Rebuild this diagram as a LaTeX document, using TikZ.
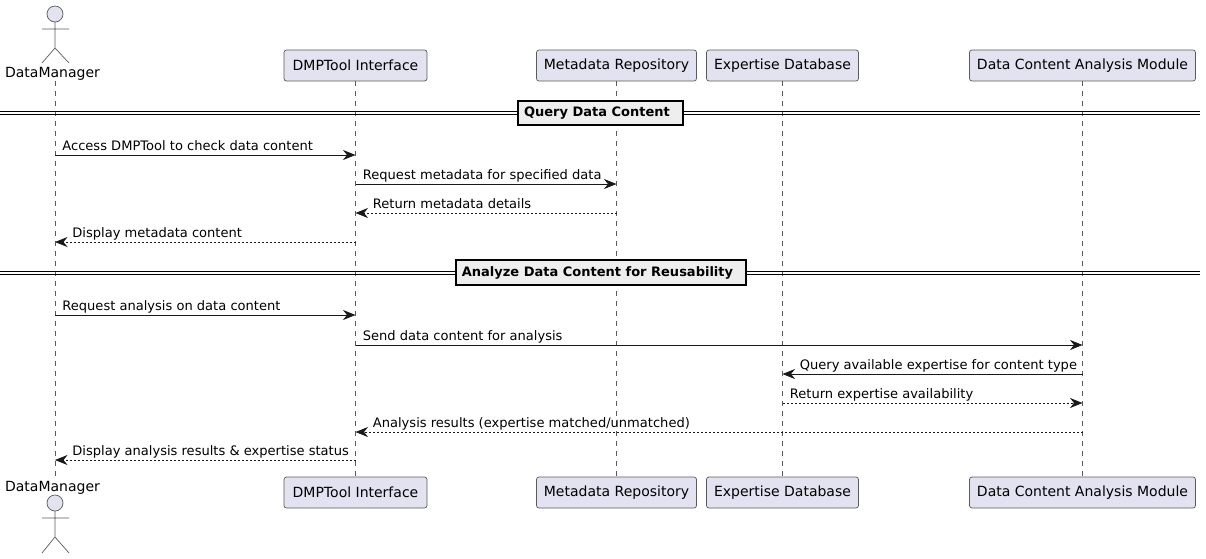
\documentclass[tikz,border=0pt]{standalone}
\usepackage{fontspec}
\setmainfont{DejaVu Sans}
\usetikzlibrary{arrows.meta}
\definecolor{headfill}{HTML}{E2E2F0}
\definecolor{headline}{HTML}{5A5A5A}
\definecolor{divfill}{HTML}{EEEEEE}
\tikzset{
  head/.style={draw=headline,fill=headfill,line width=.7pt,rounded corners=2.5pt,inner sep=0pt,
    minimum height=31pt,font=\fontsize{14}{16}\selectfont},
  actor/.style={draw=headline,line width=.7pt},
  actorname/.style={inner sep=0pt,font=\fontsize{14}{16}\selectfont},
  life/.style={draw=headline,line width=.6pt,dash pattern=on 5pt off 5pt},
  msg/.style={line width=.8pt,draw=black!90,-{Stealth[length=12.5pt,width=10pt,inset=4pt]}},
  ret/.style={msg,dash pattern=on 2pt off 2pt},
  lbl/.style={inner sep=0pt,anchor=base west,yshift=5pt,font=\fontsize{13.05}{15}\selectfont},
  divbox/.style={draw=black,fill=divfill,line width=1.6pt,inner sep=0pt,
    font=\fontsize{13}{15}\selectfont\bfseries},
  divline/.style={draw=black,line width=.9pt},
}
\begin{document}
\begin{tikzpicture}[x=1pt,y=-1pt]
\useasboundingbox (0,0) rectangle (1206,558);
% heads
\coordinate (dm) at (55,81);
\coordinate (dmb) at (55,477);
\node[head,minimum width=143pt] (dt) at (355.5,65.5) {DMPTool Interface};
\node[head,minimum width=160pt] (mr) at (616.5,65.5) {Metadata Repository};
\node[head,minimum width=152pt] (ed) at (782.5,65.5) {Expertise Database};
\node[head,minimum width=226pt] (ca) at (1082.5,65.5) {Data Content Analysis Module};
\node[head,minimum width=143pt] (dtb) at (355.5,492.5) {DMPTool Interface};
\node[head,minimum width=160pt] (mrb) at (616.5,492.5) {Metadata Repository};
\node[head,minimum width=152pt] (edb) at (782.5,492.5) {Expertise Database};
\node[head,minimum width=226pt] (cab) at (1082.5,492.5) {Data Content Analysis Module};
% lifelines
\draw[life] (dm) -- (dmb);
\foreach \a/\b in {dt/dtb,mr/mrb,ed/edb,ca/cab}
  \draw[life] (\a.south) -- (\b.north);
% actors
\draw[actor,fill=headfill] (55,14) circle (8);
\draw[actor] (55,22) -- (55,48) (42,29) -- (69,29) (42,63) -- (55,48) -- (69,63);
\node[actorname] (dmtxt) at (52.5,74) {DataManager};
\node[actorname] (dmtxtb) at (52.5,487.5) {DataManager};
\draw[actor,fill=headfill] (55,503) circle (8);
\draw[actor] (55,511) -- (55,537) (42,518) -- (69,518) (42,553) -- (55,537) -- (69,553);
% dividers
\draw[divline] (0,111.5) -- (1200,111.5) (0,114.5) -- (1200,114.5);
\node[divbox,minimum width=165pt,minimum height=24pt] (d1) at (600.5,113) {\hspace*{-7pt}Query Data Content};
\draw[divline] (0,271) -- (1200,271) (0,274) -- (1200,274);
\node[divbox,minimum width=290pt,minimum height=25pt] (d2) at (601,272.5) {\hspace*{-7pt}Analyze Data Content for Reusability};
% messages
\draw[msg] (dm |- 0,155) -- (dt |- 0,155) node[lbl,pos=0,xshift=7pt] (t1) {Access DMPTool to check data content};
\draw[msg] (dt |- 0,184) -- (mr |- 0,184) node[lbl,pos=0,xshift=7pt] (t2) {Request metadata for specified data};
\draw[ret] (mr |- 0,213) -- (dt |- 0,213) node[lbl,pos=1,xshift=17pt] (t3) {Return metadata details};
\draw[ret] (dt |- 0,242) -- (dm |- 0,242) node[lbl,pos=1,xshift=17pt] (t4) {Display metadata content};
\draw[msg] (dm |- 0,315) -- (dt |- 0,315) node[lbl,pos=0,xshift=7pt] (t5) {Request analysis on data content};
\draw[msg] (dt |- 0,345) -- (ca |- 0,345) node[lbl,pos=0,xshift=7pt] (t6) {Send data content for analysis};
\draw[msg] (ca |- 0,374) -- (ed |- 0,374) node[lbl,pos=1,xshift=17pt] (t7) {Query available expertise for content type};
\draw[ret] (ed |- 0,403) -- (ca |- 0,403) node[lbl,pos=0,xshift=7pt] (t8) {Return expertise availability};
\draw[ret] (ca |- 0,432) -- (dt |- 0,432) node[lbl,pos=1,xshift=17pt] (t9) {Analysis results (expertise matched/unmatched)};
\draw[ret] (dt |- 0,460) -- (dm |- 0,460) node[lbl,pos=1,xshift=17pt] (t10) {Display analysis results \& expertise status};
\end{tikzpicture}
\end{document}
